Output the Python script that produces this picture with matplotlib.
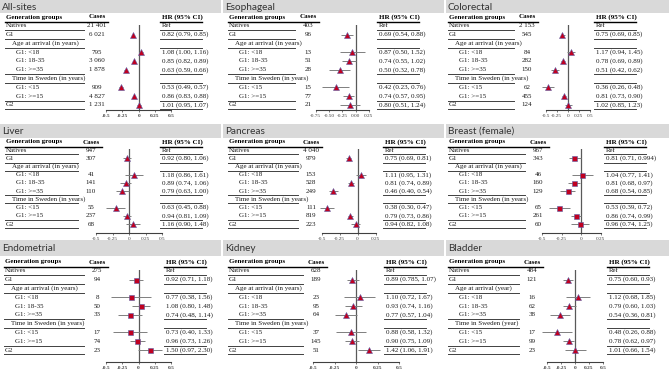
import numpy as np
import matplotlib
matplotlib.use("Agg")
import matplotlib.pyplot as plt
from matplotlib.patches import Rectangle

# ---------------- data ----------------
row_labels = ["Natives", "G1", "Age at arrival (in years)", "G1: <18", "G1: 18-35",
              "G1: >=35", "Time in Sweden (in years)", "G1: <15", "G1: >=15", "G2"]
row_labels_bladder = ["Natives", "G1", "Age at arrival (year)", "G1: <18", "G1: 18-35",
                      "G1: >=35", "Time in Sweden (year)", "G1: <15", "G1: >=15", "G2"]
indent = [0, 0, 1, 2, 2, 2, 1, 2, 2, 0]
data_rows = [1, 2, 4, 5, 6, 8, 9, 10]   # row index of Natives, G1, <18, 18-35, >=35, <15, >=15, G2

sites = ["All-sites", "Esophageal", "Colorectal", "Liver", "Pancreas", "Breast (female)",
         "Endometrial", "Kidney", "Bladder"]

allsites_cases = [21401, 6021, 795, 3060, 1878, 909, 4827, 1231]
allsites_hr = [None, 0.82, 1.08, 0.85, 0.63, 0.53, 0.86, 1.01]
allsites_lo = [None, 0.79, 1.00, 0.82, 0.59, 0.49, 0.83, 0.95]
allsites_hi = [None, 0.85, 1.16, 0.89, 0.66, 0.57, 0.88, 1.07]

esoph_cases = [403, 96, 13, 51, 28, 15, 77, 21]
esoph_hr = [None, 0.69, 0.87, 0.74, 0.50, 0.42, 0.74, 0.80]
esoph_lo = [None, 0.54, 0.50, 0.55, 0.32, 0.23, 0.57, 0.51]
esoph_hi = [None, 0.88, 1.52, 1.02, 0.78, 0.76, 0.95, 1.24]

colo_cases = [2153, 545, 84, 282, 150, 62, 455, 124]
colo_hr = [None, 0.75, 1.17, 0.78, 0.51, 0.36, 0.81, 1.02]
colo_lo = [None, 0.69, 0.94, 0.69, 0.42, 0.26, 0.73, 0.85]
colo_hi = [None, 0.85, 1.45, 0.89, 0.62, 0.48, 0.90, 1.23]

liver_cases = [947, 307, 41, 141, 110, 55, 237, 68]
liver_hr = [None, 0.92, 1.18, 0.89, 0.79, 0.63, 0.94, 1.16]
liver_lo = [None, 0.80, 0.86, 0.74, 0.63, 0.45, 0.81, 0.90]
liver_hi = [None, 1.06, 1.61, 1.06, 1.00, 0.88, 1.09, 1.48]

panc_cases = [4040, 979, 153, 528, 249, 111, 819, 223]
panc_hr = [None, 0.75, 1.11, 0.81, 0.46, 0.38, 0.79, 0.94]
panc_lo = [None, 0.69, 0.95, 0.74, 0.40, 0.30, 0.73, 0.82]
panc_hi = [None, 0.81, 1.31, 0.89, 0.54, 0.47, 0.86, 1.08]

breast_cases = [967, 343, 46, 160, 129, 65, 261, 60]
breast_hr = [None, 0.81, 1.04, 0.81, 0.68, 0.53, 0.86, 0.96]
breast_lo = [None, 0.71, 0.77, 0.68, 0.54, 0.39, 0.74, 0.74]
breast_hi = [None, 0.994, 1.41, 0.97, 0.85, 0.72, 0.99, 1.25]

endo_cases = [275, 94, 8, 50, 33, 17, 74, 23]
endo_hr = [None, 0.92, 0.77, 1.08, 0.74, 0.73, 0.96, 1.50]
endo_lo = [None, 0.71, 0.38, 0.80, 0.48, 0.40, 0.73, 0.97]
endo_hi = [None, 1.18, 1.56, 1.48, 1.14, 1.33, 1.26, 2.30]

kidney_cases = [628, 189, 23, 95, 64, 37, 145, 51]
kidney_hr = [None, 0.89, 1.10, 0.93, 0.77, 0.88, 0.90, 1.42]
kidney_lo = [None, 0.785, 0.72, 0.74, 0.57, 0.58, 0.75, 1.06]
kidney_hi = [None, 1.07, 1.67, 1.16, 1.04, 1.32, 1.09, 1.91]

bladder_cases = [484, 121, 16, 62, 38, 17, 99, 23]
bladder_hr = [None, 0.75, 1.12, 0.79, 0.54, 0.48, 0.78, 1.01]
bladder_lo = [None, 0.60, 0.68, 0.60, 0.36, 0.26, 0.62, 0.66]
bladder_hi = [None, 0.93, 1.85, 1.03, 0.81, 0.88, 0.97, 1.54]

site_data = [
    (allsites_cases, allsites_hr, allsites_lo, allsites_hi),
    (esoph_cases, esoph_hr, esoph_lo, esoph_hi),
    (colo_cases, colo_hr, colo_lo, colo_hi),
    (liver_cases, liver_hr, liver_lo, liver_hi),
    (panc_cases, panc_hr, panc_lo, panc_hi),
    (breast_cases, breast_hr, breast_lo, breast_hi),
    (endo_cases, endo_hr, endo_lo, endo_hi),
    (kidney_cases, kidney_hr, kidney_lo, kidney_hi),
    (bladder_cases, bladder_hr, bladder_lo, bladder_hi),
]

ticks_a = [-0.5, -0.25, 0, 0.25, 0.5]
ticks_b = [-0.75, -0.5, -0.25, 0, 0.25]
ticks_c = [-0.5, -0.25, 0, 0.25]
ticklabels_a = ["-0.5", "-0.25", "0", "0.25", "0.5"]
ticklabels_b = ["-0.75", "-0.50", "-0.25", "0.00", "0.25"]
ticklabels_c = ["-0.5", "-0.25", "0", "0.25"]

# ---------------- layout (pixels) ----------------
W, H = 669, 375
col_x0 = [0, 223, 446]
col_w = [221, 221, 223]
rows_layout = [  # top, bar height, header y, row spacing, axis y
    dict(top=0, bar=13, header=17, sp=8.8, axis=110),
    dict(top=124, bar=14, header=142, sp=8.2, axis=233),
    dict(top=240, bar=16, header=262, sp=8.8, axis=362),
]
# per panel: gen x, cases centre, hr x, zero px, px per unit, ticks, labels, marker, bold ticks
panel_layout = [
    dict(gx=6, cx=97, hx=161, z=138.7, s=65, t=ticks_a, tl=ticklabels_a, m="^", tb=True),
    dict(gx=6, cx=85, hx=155, z=132.5, s=53, t=ticks_b, tl=ticklabels_b, m="^", tb=False),
    dict(gx=3, cx=81, hx=149, z=121.7, s=44, t=ticks_a, tl=ticklabels_a, m="^", tb=False),
    dict(gx=6, cx=91, hx=161, z=129, s=66, t=ticks_a, tl=ticklabels_a, m="^", tb=False),
    dict(gx=6, cx=88, hx=161, z=134.5, s=72, t=ticks_c, tl=ticklabels_c, m="^", tb=False),
    dict(gx=3, cx=92, hx=159, z=135, s=78, t=ticks_c, tl=ticklabels_c, m="s", tb=False),
    dict(gx=5, cx=97, hx=165, z=138.5, s=65, t=ticks_a, tl=ticklabels_a, m="s", tb=True),
    dict(gx=6, cx=93, hx=162, z=133, s=86, t=ticks_a, tl=ticklabels_a, m="^", tb=True),
    dict(gx=3, cx=86, hx=162, z=129, s=56, t=ticks_a, tl=ticklabels_a, m="^", tb=True),
]

SERIF = "Liberation Serif"
SANS = "Lato"
FS = 5.0
LINE_C = "#404040"
TXT_C = "#1a1a1a"

fig = plt.figure(figsize=(W / 100, H / 100), dpi=100)
bg = fig.add_axes([0, 0, 1, 1])
bg.set_xlim(0, W)
bg.set_ylim(H, 0)
bg.axis("off")


def fmt_num(v):
    return f"{v:.2f}" if abs(round(v, 2) - v) < 1e-9 else f"{v:g}"


def fmt_cases(n):
    return f"{n:,}".replace(",", " ")


for i, site in enumerate(sites):
    r, c = divmod(i, 3)
    R = rows_layout[r]
    P = panel_layout[i]
    x0 = col_x0[c]
    cases, hr, lo, hi = site_data[i]
    labels = row_labels_bladder if site == "Bladder" else row_labels

    # title bar
    bg.add_patch(Rectangle((x0, R["top"]), col_w[c], R["bar"], color="#d9d9d9", lw=0, zorder=0))
    bg.text(x0 + 2, R["top"] + R["bar"] / 2 + 0.5, site, fontsize=7.2, family=SANS,
            color="#333333", va="center", ha="left")

    hy = R["header"]
    sp = R["sp"]
    gx = x0 + P["gx"]
    cx = x0 + P["cx"]
    hx = x0 + P["hx"]

    # header
    bg.text(gx, hy, "Generation groups", fontsize=FS, family=SERIF, weight="bold", va="center")
    bg.text(cx, hy, "Cases", fontsize=FS, family=SERIF, weight="bold", va="center", ha="center")
    bg.text(hx + 1, hy, "HR (95% CI)", fontsize=FS, family=SERIF, weight="bold", va="center")
    ly = hy + sp * 0.55
    bg.plot([gx - 1, cx + 11], [ly, ly], color="black", lw=1.0)
    bg.plot([hx - 1, hx + 41], [ly, ly], color="black", lw=1.0)

    # rows
    for k, lab in enumerate(labels, start=1):
        y = hy + k * sp
        bg.text(gx + [0, 6, 10][indent[k - 1]], y, lab, fontsize=FS, family=SERIF, va="center",
                color=TXT_C)
    for j, k in enumerate(data_rows):
        y = hy + k * sp
        bg.text(cx, y, fmt_cases(cases[j]), fontsize=FS, family=SERIF, va="center", ha="center",
                color=TXT_C)
        if hr[j] is None:
            s = "Ref"
        else:
            s = f"{fmt_num(hr[j])} ({fmt_num(lo[j])}, {fmt_num(hi[j])})"
        bg.text(hx + 1, y, s, fontsize=FS, family=SERIF, va="center", color=TXT_C)

    for k in [1, 2, 3, 6, 7, 9, 10]:
        ly = hy + k * sp + sp * 0.5
        bg.plot([gx - 1, cx - 13], [ly, ly], color=LINE_C, lw=0.7)
        bg.plot([hx - 1, hx + 41], [ly, ly], color=LINE_C, lw=0.7)

    # forest plot axes
    xmin, xmax = P["t"][0], P["t"][-1]
    left = x0 + P["z"] + xmin * P["s"]
    right = x0 + P["z"] + xmax * P["s"]
    k_top = 0.9
    top_px = hy + k_top * sp
    bot_px = R["axis"]
    k_bot = (bot_px - hy) / sp
    ax = fig.add_axes([left / W, 1 - bot_px / H, (right - left) / W, (bot_px - top_px) / H])
    ax.set_xlim(xmin, xmax)
    ax.set_ylim(k_bot, k_top)
    ax.patch.set_alpha(0)
    for sname in ["top", "right", "left"]:
        ax.spines[sname].set_visible(False)
    ax.spines["bottom"].set_color("#404040")
    ax.spines["bottom"].set_linewidth(0.8)
    ax.set_yticks([])
    ax.set_xticks(P["t"])
    ax.set_xticklabels(P["tl"], fontsize=3.8, family=SERIF,
                       fontweight="bold" if P["tb"] else "normal", color="#333333")
    ax.tick_params(axis="x", length=1.5, width=0.5, pad=1.5, colors="#404040")
    ax.axvline(0, color="#595959", lw=0.9, zorder=1)

    ks = [k for j, k in enumerate(data_rows) if hr[j] is not None]
    lhr = np.log10([v for v in hr if v is not None])
    llo = np.log10([v for v in lo if v is not None])
    lhi = np.log10([v for v in hi if v is not None])
    ax.hlines(ks, llo, lhi, color="#7f7f7f", lw=0.7, zorder=2, clip_on=False)
    ms = 4.2 if P["m"] == "^" else 3.6
    ax.plot(lhr, ks, linestyle="none", marker=P["m"], markersize=ms,
            markerfacecolor="#c00020", markeredgecolor="#5b5ea6", markeredgewidth=0.4,
            zorder=3, clip_on=False)

fig.savefig("out.png", dpi=100)
